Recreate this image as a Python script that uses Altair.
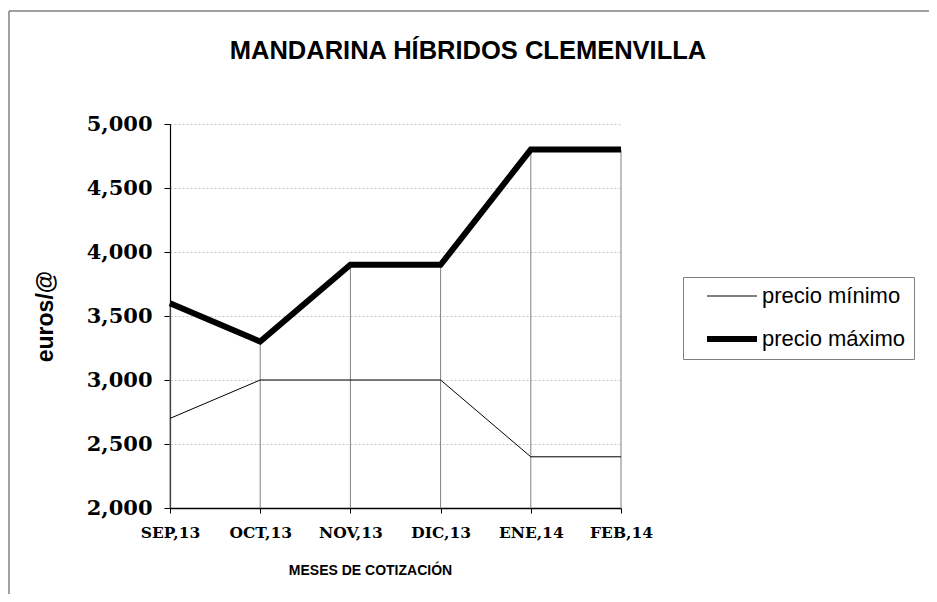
import altair as alt
import pandas as pd

titulo = "MANDARINA HÍBRIDOS CLEMENVILLA"
meses = ["SEP,13", "OCT,13", "NOV,13", "DIC,13", "ENE,14", "FEB,14"]
precio_min = [2.7, 3.0, 3.0, 3.0, 2.4, 2.4]
precio_max = [3.6, 3.3, 3.9, 3.9, 4.8, 4.8]
series = ["precio mínimo", "precio máximo"]
y_ticks = [2.0, 2.5, 3.0, 3.5, 4.0, 4.5, 5.0]

wide = pd.DataFrame({"mes": meses, "min": precio_min, "max": precio_max})
long = pd.concat([
    pd.DataFrame({"mes": meses, "valor": precio_min, "serie": series[0]}),
    pd.DataFrame({"mes": meses, "valor": precio_max, "serie": series[1]}),
])

x_enc = alt.X("mes:N", sort=meses, scale=alt.Scale(type="point", padding=0),
              axis=alt.Axis(title="MESES DE COTIZACIÓN", labelAngle=0,
                            labelAlign="center",
                            labelFont="DejaVu Serif", labelFontWeight="bold",
                            labelFontSize=15.5, labelColor="black",
                            labelBaseline="middle", labelPadding=19,
                            tickSize=5, tickColor="black", domainColor="black",
                            domainWidth=1.5, grid=False,
                            titleFont="Liberation Sans", titleFontWeight="bold",
                            titleFontSize=14, titleColor="black",
                            titleX=200, titleY=62, titleBaseline="middle",
                            titleAlign="center"))

y_scale = alt.Scale(domain=[2, 5], nice=False, zero=False)

drops = alt.Chart(wide).mark_rule(color="#808080", strokeWidth=1).encode(
    x=alt.X("mes:N", sort=meses),
    y=alt.Y("max:Q", scale=y_scale),
    y2=alt.datum(2),
)

lines = alt.Chart(long).mark_line(color="black").encode(
    x=x_enc,
    y=alt.Y("valor:Q", scale=y_scale,
            axis=alt.Axis(title="euros/@", values=y_ticks,
                          labelExpr="replace(format(datum.value, '.3f'), '.', ',')",
                          labelFont="DejaVu Serif", labelFontWeight="bold",
                          labelFontSize=21, labelColor="black", labelPadding=12,
                          tickSize=6, tickColor="black", domainColor="black",
                          domainWidth=1.2,
                          grid=True, gridColor="#c4c4c4", gridDash=[2, 2],
                          titleFont="Liberation Sans", titleFontWeight="bold",
                          titleFontSize=23, titleColor="black",
                          titleX=-125, titleY=192, titleAngle=-90,
                          titleAlign="center", titleBaseline="middle")),
    strokeWidth=alt.StrokeWidth("serie:N",
                                scale=alt.Scale(domain=series, range=[1, 6]),
                                legend=alt.Legend(title=None, orient="none",
                                                  legendX=513, legendY=153,
                                                  strokeColor="#808080",
                                                  padding=8, symbolOffset=28,
                                                  symbolType="M-2.5,0H2.5",
                                                  symbolSize=400,
                                                  symbolStrokeColor="black",
                                                  labelFont="Liberation Sans",
                                                  labelFontSize=22,
                                                  labelColor="black",
                                                  labelOffset=17,
                                                  labelExpr="datum.label + '\u00a0\u00a0\u00a0'",
                                                  rowPadding=19)),
    order=alt.Order("serie:N"),
)

tit = alt.Chart(pd.DataFrame({"t": [titulo]})).mark_text(
    font="Liberation Sans", fontWeight="bold", fontSize=25.5, color="black",
    align="center", baseline="middle",
).encode(x=alt.value(298), y=alt.value(-73), text="t:N")

frame_top = alt.Chart(pd.DataFrame({"a": [0]})).mark_rule(
    color="#808080", strokeWidth=1.5).encode(
    x=alt.value(-161), x2=alt.value(800), y=alt.value(-113))
frame_left = alt.Chart(pd.DataFrame({"a": [0]})).mark_rule(
    color="#808080", strokeWidth=1.5).encode(
    x=alt.value(-161), y=alt.value(-113), y2=alt.value(600))

chart = alt.layer(frame_top, frame_left, drops, lines, tit).properties(
    width=451, height=384,
    autosize=alt.AutoSizeParams(type="none"),
    padding={"left": 162, "top": 116, "right": 308, "bottom": 86},
).configure_view(strokeWidth=0)

chart.save("out.html", embed_options={"renderer": "svg", "actions": False})
